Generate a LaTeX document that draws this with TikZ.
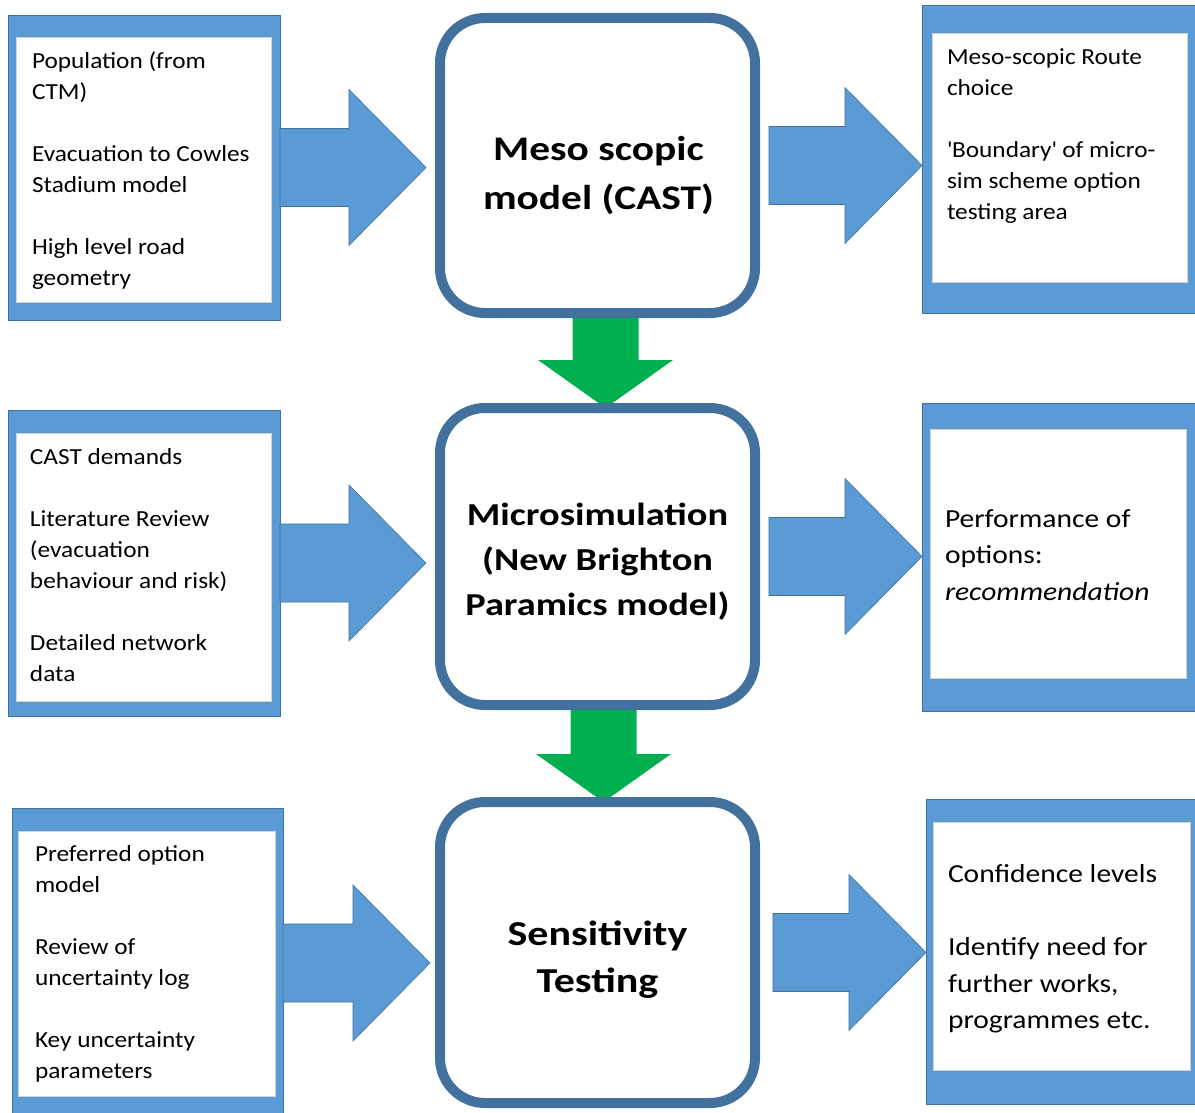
\documentclass[tikz,border=0pt]{standalone}
\usepackage{fontspec}
\setmainfont{Carlito}[FakeStretch=1.1]
\newfontfamily\widefont{Carlito}[FakeStretch=1.135]
\newfontfamily\boldwide{Carlito}[FakeStretch=1.2]
\usetikzlibrary{calc,fit}
\definecolor{fillblue}{HTML}{5B9BD5}
\definecolor{edgeblue}{HTML}{41719C}
\definecolor{arrgreen}{HTML}{00B050}
\tikzset{
  frame/.style={fill=fillblue, draw=edgeblue, line width=0.8pt, inner sep=0pt, outer sep=0pt},
  paper/.style={fill=white, draw=black!18, line width=0.8pt, inner sep=0pt, outer sep=0pt},
  central/.style={fill=white, draw=edgeblue, line width=10pt, rounded corners=45pt, inner sep=0pt, outer sep=0pt},
  sidetext/.style={anchor=north west, inner sep=0pt, outer sep=0pt, align=left, font=\fontsize{23}{31}\selectfont},
  sidetextb/.style={sidetext, font=\widefont\fontsize{26}{36.5}\selectfont},
  ctext/.style={anchor=north, inner sep=0pt, outer sep=0pt, align=center},
  bluearrow/.style={fill=fillblue, draw=edgeblue, line width=0.6pt},
  greenarrow/.style={fill=arrgreen},
}
% horizontal block arrow: #1 from, #2 to, #3 start gap, #4 end gap
\newcommand\hblock[4]{%
  \path[bluearrow] let \p1=(#1), \p2=(#2) in
    ({\x1+#3pt},{\y1+39pt}) -- ({\x2-#4pt-77pt},{\y1+39pt}) -- ({\x2-#4pt-77pt},{\y1+78pt})
    -- ({\x2-#4pt},\y1) -- ({\x2-#4pt-77pt},{\y1-78pt}) -- ({\x2-#4pt-77pt},{\y1-39pt})
    -- ({\x1+#3pt},{\y1-39pt}) -- cycle;}
% vertical block arrow: #1 from, #2 to
\newcommand\vblock[2]{%
  \path[greenarrow] let \p1=(#1), \p2=(#2) in
    ({\x1-33pt},\y1) -- ({\x1-33pt},{\y2+48pt}) -- ({\x1-67.5pt},{\y2+48pt})
    -- (\x1,\y2) -- ({\x1+67.5pt},{\y2+48pt}) -- ({\x1+33pt},{\y2+48pt})
    -- ({\x1+33pt},\y1) -- cycle;}
\begin{document}
\begin{tikzpicture}[x=1pt,y=-1pt]
\useasboundingbox (0,0) rectangle (1195,1113);
\fill[white] (0,0) rectangle (1195,1113);
\clip (0,0) rectangle (1195,1113);

% side frames
\node[frame, fit={(8,15) (280,320)}] (L1) {};
\node[paper, fit={(16,37) (271,302)}] (L1w) {};
\node[frame, fit={(8,410) (280,716)}] (L2) {};
\node[paper, fit={(16,433) (271,701)}] (L2w) {};
\node[frame, fit={(12,808) (283,1118)}] (L3) {};
\node[paper, fit={(18,831) (275,1096)}] (L3w) {};
\node[frame, fit={(922,5) (1196,313)}] (R1) {};
\node[paper, fit={(932,33) (1187,282)}] (R1w) {};
\node[frame, fit={(922,403) (1196,711)}] (R2) {};
\node[paper, fit={(930,429) (1186,678)}] (R2w) {};
\node[frame, fit={(926,799) (1196,1104)}] (R3) {};
\node[paper, fit={(933,822) (1190,1070)}] (R3w) {};

% central box geometry (drawn after the arrows)
\path (440,18) coordinate (c1a) (755,313) coordinate (c1b)
      (440,408) coordinate (c2a) (755,705) coordinate (c2b)
      (440,802) coordinate (c3a) (755,1103) coordinate (c3b);
\node[fit=(c1a)(c1b), inner sep=0pt, outer sep=0pt] (C1) {};
\node[fit=(c2a)(c2b), inner sep=0pt, outer sep=0pt] (C2) {};
\node[fit=(c3a)(c3b), inner sep=0pt, outer sep=0pt] (C3) {};

% arrows
\hblock{L1.east}{C1.west}{0}{14}
\hblock{C1.east}{R1.west}{14}{0}
\hblock{L2.east}{C2.west}{0}{14}
\hblock{C2.east}{R2.west}{14}{0}
\hblock{L3.east}{C3.west}{0}{10}
\hblock{C3.east}{R3.west}{18}{0}
\vblock{$(C1.south)+(8,0)$}{$(C2.north)+(8,0)$}
\vblock{$(C2.south)+(6,0)$}{$(C3.north)+(6,0)$}

% central boxes
\draw[central] (c1a) rectangle (c1b);
\draw[central] (c2a) rectangle (c2b);
\draw[central] (c3a) rectangle (c3b);

% texts
\node[sidetext] (L1t) at (32,46.3) {\strut Population (from\\CTM)\\[31pt]Evacuation to Cowles\\Stadium model\\[31pt]High level road\\geometry};
\node[sidetext] (L2t) at (30,442.3) {\strut CAST demands\\[31pt]Literature Review\\(evacuation\\behaviour and risk)\\[31pt]Detailed network\\data};
\node[sidetext] (L3t) at (35,839.3) {\strut Preferred option\\model\\[31pt]Review of\\uncertainty log\\[31pt]Key uncertainty\\parameters};
\node[sidetext] (R1t) at (947,42.3) {\strut Meso-scopic Route\\choice\\[31pt]\textquotesingle Boundary\textquotesingle\ of micro-\\sim scheme option\\testing area};
\node[sidetextb] (R2t) at (945,501.5) {\strut Performance of\\options:\\\textit{recommendation}};
\node[sidetextb] (R3t) at (948,857.4) {\strut Confidence levels\\[36.5pt]Identify need for\\further works,\\programmes etc.};

\node[ctext, font=\boldwide\bfseries\fontsize{34.5}{50}\selectfont] (C1t) at (598.5,125) {\strut Meso scopic\\model (CAST)};
\node[ctext, font=\boldwide\bfseries\fontsize{32}{45}\selectfont] (C2t) at (597.5,493.5) {\strut Microsimulation\\(New Brighton\\Paramics model)};
\node[ctext, font=\boldwide\bfseries\fontsize{35}{47}\selectfont] (C3t) at (597.5,913) {\strut Sensitivity\\Testing};
\end{tikzpicture}
\end{document}
